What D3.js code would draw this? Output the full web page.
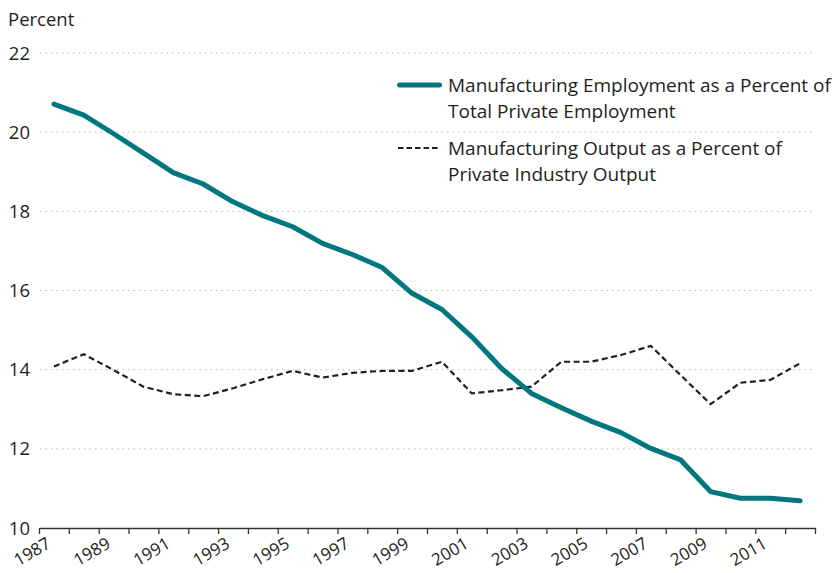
<!DOCTYPE html>
<html>
<head>
<meta charset="utf-8">
<script src="https://cdn.jsdelivr.net/npm/d3@7"></script>
<style>
  body { margin: 0; background: #fff; }
  svg text { font-family: "Open Sans", sans-serif; fill: #231f20; }
</style>
</head>
<body>
<div id="chart"></div>
<script>
// DATA
const years = d3.range(1987, 2013);
const employmentShare = [20.71, 20.43, 19.96, 19.47, 18.98, 18.69, 18.24, 17.89, 17.61, 17.19, 16.91, 16.58, 15.93,
                         15.52, 14.83, 14.03, 13.40, 13.04, 12.70, 12.41, 12.01, 11.72, 10.92, 10.75, 10.75, 10.69];
const outputShare = [14.08, 14.39, 13.99, 13.57, 13.38, 13.33, 13.53, 13.76, 13.97, 13.80, 13.92, 13.97, 13.97,
                     14.20, 13.40, 13.48, 13.57, 14.20, 14.20, 14.37, 14.60, 13.86, 13.13, 13.67, 13.74, 14.16];
const yTicks = [10, 12, 14, 16, 18, 20, 22];
const xLabelYears = years.filter(d => d % 2 === 1);
const legendLabels = [
  ["Manufacturing Employment as a Percent of", "Total Private Employment"],
  ["Manufacturing Output as a Percent of", "Private Industry Output"]
];

// DIMENSIONS
const width = 836, height = 573;
const plotLeft = 39, plotRight = 815, plotTop = 53, plotBottom = 528;
const teal = "#00767e";

const svg = d3.select("#chart").append("svg")
    .attr("width", width)
    .attr("height", height);

// SCALES
const xBand = d3.scaleBand().domain(years).range([plotLeft, plotRight]);
const xEdge = d3.scaleLinear().domain([0, years.length]).range([plotLeft, plotRight]);
const yScale = d3.scaleLinear().domain([10, 22]).range([plotBottom, plotTop]);

// GRIDLINES
svg.append("g")
    .selectAll("line")
    .data(yTicks.filter(d => d > 10))
    .enter().append("line")
    .attr("x1", plotLeft + 1)
    .attr("x2", plotRight)
    .attr("y1", d => yScale(d))
    .attr("y2", d => yScale(d))
    .attr("stroke", "#b8b8b8")
    .attr("stroke-width", 1)
    .attr("stroke-dasharray", "1.5,4");

// Y LABELS
svg.append("g")
    .selectAll("text")
    .data(yTicks)
    .enter().append("text")
    .attr("x", 30)
    .attr("y", d => yScale(d))
    .attr("dy", "0.36em")
    .attr("text-anchor", "end")
    .style("font-size", "18.5px")
    .text(d => d);

svg.append("text")
    .attr("x", 8)
    .attr("y", 26)
    .style("font-size", "18.5px")
    .text("Percent");

// X AXIS (ticks at year boundaries)
const xAxis = d3.axisBottom(xEdge)
    .tickValues(d3.range(years.length + 1))
    .tickFormat("")
    .tickSize(6)
    .tickSizeOuter(0);
const gx = svg.append("g")
    .attr("transform", "translate(0," + plotBottom + ")")
    .call(xAxis);
gx.select(".domain").attr("stroke", "#333").attr("stroke-width", 1.5);
gx.selectAll(".tick line").attr("stroke", "#333").attr("stroke-width", 1.3);

// X LABELS
const xLabelAxis = d3.axisBottom(xBand)
    .tickValues(xLabelYears)
    .tickSize(0);
const gxl = svg.append("g")
    .attr("transform", "translate(0," + plotBottom + ")")
    .call(xLabelAxis);
gxl.select(".domain").remove();
gxl.selectAll("text")
    .attr("x", 0)
    .attr("y", 0)
    .attr("dy", 0)
    .attr("transform", "translate(-2,19) rotate(-30)")
    .style("text-anchor", "end")
    .style("font-family", "'Open Sans', sans-serif")
    .style("font-size", "17px")
    .attr("fill", "#231f20");

// LINES
const line = d3.line()
    .x((d, i) => xBand(years[i]) + xBand.bandwidth() / 2)
    .y(d => yScale(d));

svg.append("path")
    .attr("d", line(outputShare))
    .attr("fill", "none")
    .attr("stroke", "#231f20")
    .attr("stroke-width", 2.2)
    .attr("stroke-dasharray", "6,3.5");

svg.append("path")
    .attr("d", line(employmentShare))
    .attr("fill", "none")
    .attr("stroke", teal)
    .attr("stroke-width", 5)
    .attr("stroke-linecap", "round")
    .attr("stroke-linejoin", "round");

// LEGEND
const legend = svg.append("g");
const legendY = [85, 148];
legend.append("line")
    .attr("x1", 399.5).attr("x2", 439.5)
    .attr("y1", legendY[0]).attr("y2", legendY[0])
    .attr("stroke", teal)
    .attr("stroke-width", 5)
    .attr("stroke-linecap", "round");
legend.append("line")
    .attr("x1", 398).attr("x2", 440)
    .attr("y1", legendY[1]).attr("y2", legendY[1])
    .attr("stroke", "#231f20")
    .attr("stroke-width", 2.2)
    .attr("stroke-dasharray", "5.5,3");

legendLabels.forEach((lines, k) => {
    const t = legend.append("text")
        .attr("x", 448)
        .attr("y", legendY[k] + 7)
        .style("font-size", "19px");
    lines.forEach((s, j) => {
        t.append("tspan")
            .attr("x", 448)
            .attr("dy", j === 0 ? 0 : 26)
            .text(s);
    });
});
</script>
</body>
</html>
